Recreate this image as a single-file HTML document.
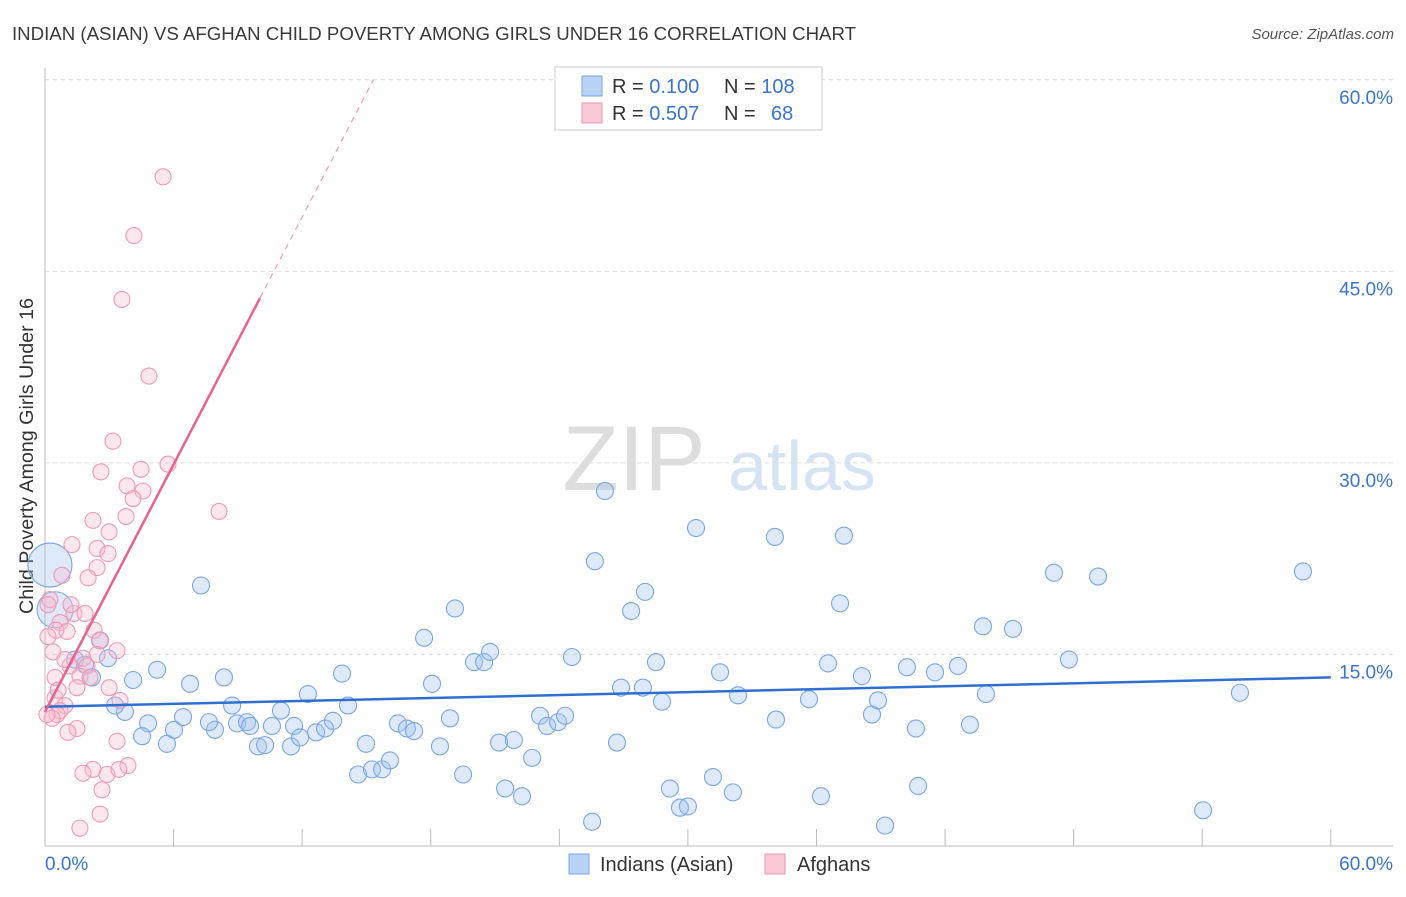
<!DOCTYPE html>
<html><head><meta charset="utf-8"><style>
body{margin:0;background:#fff;font-family:"Liberation Sans",sans-serif;}
svg text{font-family:"Liberation Sans",sans-serif;}
</style></head><body>
<svg id="chart" width="1406" height="892" xmlns="http://www.w3.org/2000/svg">
<text x="12" y="40" font-size="18" fill="#3a3a3a" textLength="844" lengthAdjust="spacingAndGlyphs">INDIAN (ASIAN) VS AFGHAN CHILD POVERTY AMONG GIRLS UNDER 16 CORRELATION CHART</text>
<text x="1394" y="39" font-size="15" fill="#555" font-style="italic" text-anchor="end">Source: ZipAtlas.com</text>
<text transform="translate(33,456) rotate(-90)" font-size="19" fill="#333" text-anchor="middle" textLength="316" lengthAdjust="spacingAndGlyphs">Child Poverty Among Girls Under 16</text>
<g>
<text x="634" y="490" font-size="92" fill="#ddd" font-family="Liberation Serif" text-anchor="middle">ZIP</text>
<text x="802" y="490" font-size="70" fill="#d6e3f3" text-anchor="middle">atlas</text>
</g>
<g id="grid"></g>
<g id="axes"></g>
<g id="marks"></g>
<g>
<rect x="555" y="67" width="267" height="63" fill="#fff" stroke="#ccc"/>
<rect x="582" y="76" width="20" height="20" fill="#b8d3f5" stroke="#7aa6e0"/>
<rect x="582" y="103" width="20" height="20" fill="#f9c9d8" stroke="#eb93b1"/>
<text x="612" y="93" font-size="20" fill="#333">R = <tspan fill="#3a74d0">0.100</tspan></text>
<text x="724" y="93" font-size="20" fill="#333">N = <tspan fill="#3a74d0">108</tspan></text>
<text x="612" y="120" font-size="20" fill="#333">R = <tspan fill="#3a74d0">0.507</tspan></text>
<text x="724" y="120" font-size="20" fill="#333">N =</text>
<text x="771" y="120" font-size="20" fill="#3a74d0">68</text>
</g>
<g>
<rect x="569" y="854" width="20" height="20" fill="#b8d3f5" stroke="#7aa6e0"/>
<text x="600" y="871" font-size="20" fill="#333">Indians (Asian)</text>
<rect x="765" y="854" width="20" height="20" fill="#f9c9d8" stroke="#eb93b1"/>
<text x="797" y="871" font-size="20" fill="#333">Afghans</text>
</g>
</svg>
<script>
const yTicks=[15,30,45,60];
const yTickLabels=["15.0%","30.0%","45.0%","60.0%"];
const xTickVals=[0,6,12,18,24,30,36,42,48,54,60];
const blueX=[0.23,0.47,2.57,2.94,1.40,1.87,2.19,4.11,5.23,3.73,3.27,4.81,4.53,5.69,6.02,6.44,6.77,7.28,7.93,7.65,8.35,8.73,8.96,9.43,9.57,9.94,10.27,10.59,11.01,11.48,11.62,11.90,12.27,12.65,13.07,13.44,13.86,14.14,14.61,14.98,15.26,15.73,16.10,16.47,16.89,17.22,17.69,18.06,18.43,18.90,19.13,19.51,20.02,20.49,20.77,21.19,21.47,21.88,22.26,22.73,23.10,23.43,23.94,24.27,24.59,25.53,25.66,26.13,26.69,26.88,27.35,27.90,28.00,28.51,28.79,29.16,29.63,30.00,30.38,31.17,31.50,32.10,32.34,34.06,34.11,35.65,36.21,36.54,37.10,37.28,38.12,38.59,38.87,39.20,40.22,40.64,40.74,41.53,42.60,43.16,43.77,43.91,45.17,47.08,47.78,49.14,54.04,55.76,58.70];
const blueY=[22.0,18.5,16.1,14.7,14.6,14.2,13.2,13.0,13.8,10.5,11.0,9.6,8.6,8.0,9.1,10.1,12.7,20.4,9.1,9.7,13.2,11.0,9.6,9.7,9.4,7.8,7.9,9.4,10.6,7.8,9.4,8.5,11.9,8.9,9.2,9.8,13.5,11.0,5.6,8.0,6.0,6.0,6.7,9.6,9.2,9.0,16.3,12.7,7.8,10.0,18.6,5.6,14.4,14.4,15.2,8.1,4.5,8.3,3.9,6.9,10.2,9.4,9.7,10.2,14.8,1.9,22.3,27.8,8.1,12.4,18.4,12.4,19.9,14.4,11.3,4.5,3.0,3.1,24.9,5.4,13.6,4.2,11.8,24.2,9.9,11.5,3.9,14.3,19.0,24.3,13.3,10.3,11.4,1.6,14.0,9.2,4.7,13.6,14.1,9.5,17.2,11.9,17.0,21.4,14.6,21.1,2.8,12.0,21.5];
const blueSize=[22,18];
const pinkX=[5.51,4.15,3.59,4.85,3.17,5.74,4.48,2.61,3.83,4.57,4.11,8.12,3.78,2.24,2.99,1.26,2.43,2.94,2.43,0.79,2.01,0.23,0.14,1.35,1.87,0.70,0.51,2.29,1.03,0.14,2.57,0.37,3.36,2.43,1.77,1.96,1.17,1.63,0.47,2.99,1.49,2.10,0.47,3.50,0.93,0.70,0.56,0.33,0.09,1.49,1.07,3.36,2.24,1.77,2.89,3.87,3.45,2.66,2.57,1.63,0.61,1.21,0.93];
const pinkY=[52.4,47.8,42.8,36.8,31.7,29.9,29.5,29.3,28.2,27.8,27.2,26.2,25.8,25.5,24.6,23.6,23.3,22.9,21.8,21.2,21.0,19.3,18.9,18.2,18.2,17.5,16.9,16.9,16.8,16.4,16.1,15.2,15.3,15.0,14.7,14.1,14.1,13.3,13.2,12.4,12.4,13.2,11.6,11.4,11.0,10.6,10.3,10.0,10.3,9.2,8.9,8.2,6.0,5.7,5.6,6.3,6.0,4.4,2.5,1.4,12.2,18.9,14.6];
const blueTrend=[10.9,13.2];
const pinkTrend=[10.5,3.23];
const X=v=>45+v*21.43, Y=v=>846-v*12.77;
const NS="http://www.w3.org/2000/svg";
function mk(parent,tag,attrs){const e=document.createElementNS(NS,tag);for(const k in attrs)e.setAttribute(k,attrs[k]);parent.appendChild(e);return e;}
const grid=document.getElementById('grid'),axes=document.getElementById('axes'),marks=document.getElementById('marks');
yTicks.forEach((t,i)=>{
 const l=mk(grid,'line',{x1:45,x2:1393,y1:Y(t),y2:Y(t),stroke:'#dcdcdc','stroke-dasharray':'4,4'});
 
 
 const tx=mk(axes,'text',{x:1393,y:Y(t)+24,'font-size':19,fill:'#3a74d0','text-anchor':'end'});
 tx.textContent=yTickLabels[i];
 
 
});
const ya=mk(axes,'line',{x1:45,x2:45,y1:68,y2:846,stroke:'#bbb'});


const xa=mk(axes,'line',{x1:45,x2:1393,y1:846,y2:846,stroke:'#bbb'});


xTickVals.forEach(t=>{
 const l=mk(axes,'line',{x1:X(t),x2:X(t),y1:829,y2:846,stroke:'#bbb'});
 
 
});
const xl0=mk(axes,'text',{x:45,y:870,'font-size':19,fill:'#3a74d0'});xl0.textContent='0.0%';


const xl1=mk(axes,'text',{x:1393,y:870,'font-size':19,fill:'#3a74d0','text-anchor':'end'});xl1.textContent='60.0%';


blueX.forEach((v,i)=>{
 const c=mk(marks,'circle',{cx:X(v),cy:Y(blueY[i]),r:blueSize[i]||8.5,fill:'rgba(160,195,240,0.35)',stroke:'#7aa6e4','stroke-width':1.1});
 
 
});
pinkX.forEach((v,i)=>{
 const c=mk(marks,'circle',{cx:X(v),cy:Y(pinkY[i]),r:8,fill:'rgba(248,185,205,0.35)',stroke:'#ee9ab6','stroke-width':1.1});
 
 
});
const bl=mk(marks,'line',{x1:X(0),y1:Y(blueTrend[0]),x2:X(60),y2:Y(blueTrend[1]),stroke:'#2f6fd0','stroke-width':2.5});


const px=10.03, pEnd=(60-pinkTrend[0])/pinkTrend[1];
const pl=mk(marks,'line',{x1:X(0),y1:Y(pinkTrend[0]),x2:X(px),y2:Y(pinkTrend[0]+pinkTrend[1]*px),stroke:'#e8628f','stroke-width':2.5});


const pd=mk(marks,'line',{x1:X(px),y1:Y(pinkTrend[0]+pinkTrend[1]*px),x2:X(pEnd),y2:Y(60),stroke:'#eaa0b8','stroke-width':1.2,'stroke-dasharray':'6,5'});


</script>
</body></html>
